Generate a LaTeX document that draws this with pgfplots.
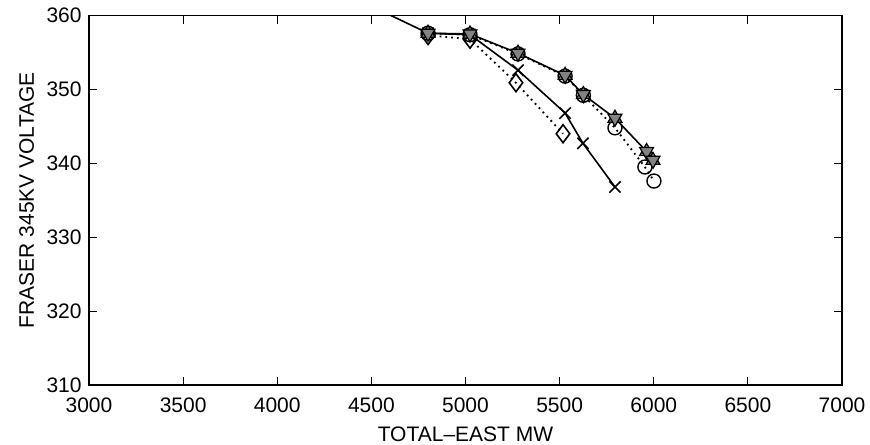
\documentclass[border=0pt]{standalone}
\usepackage{fontspec}
\setmainfont{Liberation Sans}
\usepackage{pgfplots}
\pgfplotsset{compat=1.18}
\begin{document}
\fontsize{10.5}{12}\selectfont
\begin{tikzpicture}
\begin{axis}[
  at={(0,0)}, anchor=south west,
  scale only axis,
  width=376.5pt, height=184.75pt,
  xmin=3000, xmax=7000, ymin=310, ymax=360,
  xtick={3000,3500,...,7000},
  ytick={310,320,...,360},
  tick align=inside,
  major tick length=4pt,
  tick style={black, line width=0.6pt},
  axis line style={line width=0.7pt},
  xticklabel style={font=\fontsize{10.5}{12}\selectfont, yshift=-2.5pt},
  yticklabel style={font=\fontsize{10.5}{12}\selectfont},
  /pgf/number format/assume math mode=true,
  /pgf/number format/1000 sep={},
  xlabel={TOTAL--EAST MW},
  ylabel={FRASER 345KV VOLTAGE},
  xlabel style={font=\fontsize{10.5}{12}\selectfont, yshift=0pt},
  ylabel style={font=\fontsize{10.5}{12}\selectfont, yshift=-1pt},
  clip=true,
]
% X series (solid)
\addplot[black, line width=0.8pt, mark=x, mark size=4pt, mark options={line width=0.8pt}]
coordinates {(4801,357.6) (5024,357.4) (5279,352.6) (5529,346.8) (5624,342.7) (5794,336.8)};
% diamond series (dotted)
\addplot[black, dotted, line width=0.9pt, mark=diamond, mark size=4.5pt, mark options={solid, line width=0.8pt}]
coordinates {(4801,357.3) (5024,356.8) (5268,350.9) (5518,344.0)};
% circle series (dotted)
\addplot[black, dotted, line width=0.9pt, mark=o, mark size=3.5pt, mark options={solid, line width=0.7pt}]
coordinates {(4801,357.6) (5024,357.4) (5279,354.8) (5529,351.8) (5626,349.2) (5794,344.8) (5953,339.5) (6001,337.6)};
% upper solid line with hexagram markers
\addplot[black, line width=0.8pt, mark=triangle*, mark size=4pt, mark options={fill=gray!60!black!70, line width=0.6pt}]
coordinates {(4350,363.1) (4801,357.6) (5024,357.5) (5279,354.9) (5529,351.9) (5626,349.3) (5794,346.1) (5962,341.6) (5996,340.4)};
\addplot[only marks, black, mark=triangle*, mark size=4pt, mark options={rotate=180, fill=gray!60!black!70, line width=0.6pt}]
coordinates {(4801,357.6) (5024,357.5) (5279,354.9) (5529,351.9) (5626,349.3) (5794,346.1) (5962,341.6) (5996,340.4)};
\end{axis}
\pgfresetboundingbox
\path[use as bounding box] (-44.5pt,-29.5pt) rectangle (390.5pt,192.5pt);
\end{tikzpicture}
\end{document}
